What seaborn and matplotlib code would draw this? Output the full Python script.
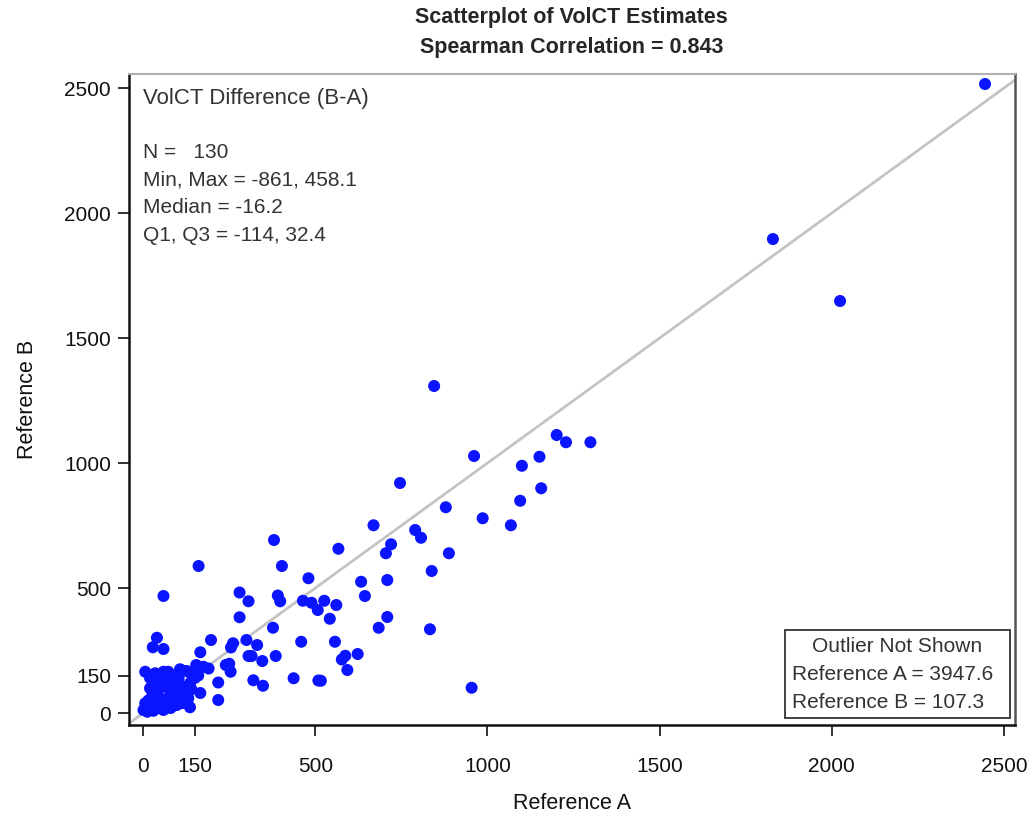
import matplotlib
matplotlib.use("Agg")
import matplotlib.pyplot as plt
import matplotlib.patches as patches
import pandas as pd
import seaborn as sns

# values (Reference A, Reference B)
ref_a = [2445, 1829, 2024, 845, 1201, 1228, 1299, 961, 1151, 1100,
         746, 1156, 1095, 879, 986, 1068, 669, 790, 807, 720,
         705, 888, 567, 380, 838, 403, 161, 480, 633, 709,
         644, 280, 306, 59, 391, 398, 464, 489, 526, 507,
         561, 542, 709, 684, 833, 280, 377, 459, 557, 623,
         587, 577, 593, 516, 954, 437, 40, 28, 59, 197,
         166, 255, 261, 300, 331, 306, 315, 346, 385, 240,
         250, 254, 320, 348, 509, 218, 166, 218, 136, 154,
         175, 190, 110, 136, 6, 35, 59, 73, 107, 126,
         44, 78, 103, 20, 59, 88, 117, 136, 25, 49,
         78, 107, 131, 6, 35, 69, 98, 1, 30, 59,
         10, 15, 40, 55, 90, 120, 150, 100, 65, 85,
         12, 45, 80, 30, 95, 160, 115, 20, 140]
ref_b = [2516, 1896, 1648, 1308, 1112, 1083, 1083, 1028, 1025, 989,
         920, 899, 849, 823, 779, 751, 751, 732, 701, 675,
         639, 639, 657, 692, 568, 588, 588, 539, 525, 532,
         468, 482, 447, 468, 470, 447, 449, 441, 449, 412,
         432, 377, 384, 341, 335, 383, 341, 285, 285, 236,
         229, 214, 172, 129, 101, 139, 301, 263, 256, 292,
         243, 262, 279, 292, 272, 228, 228, 208, 228, 192,
         197, 165, 131, 109, 130, 122, 80, 52, 23, 192,
         185, 178, 172, 161, 165, 159, 165, 165, 175, 168,
         125, 132, 139, 99, 105, 99, 105, 119, 65, 59,
         72, 65, 59, 39, 32, 39, 32, 12, 9, 12,
         20, 50, 80, 45, 60, 85, 140, 110, 150, 150,
         5, 20, 20, 120, 80, 150, 40, 140, 95]

ticks = [0, 150, 500, 1000, 1500, 2000, 2500]
stats_lines = ["N =   130", "Min, Max = -861, 458.1", "Median = -16.2", "Q1, Q3 = -114, 32.4"]
outlier_lines = ["Outlier Not Shown", "Reference A = 3947.6", "Reference B = 107.3"]

df = pd.DataFrame({"Reference A": ref_a, "Reference B": ref_b})

sns.set_style("ticks")
plt.rcParams["font.family"] = ["Liberation Sans", "DejaVu Sans"]

fig = plt.figure(figsize=(10.34, 8.17), dpi=100)
ax = fig.add_axes([0.1248, 0.1126, 0.8568, 0.7968])

ax.axline((0, 0), slope=1, color="#c4c4c4", lw=2, zorder=1)
sns.scatterplot(data=df, x="Reference A", y="Reference B", color="#0a14ff",
                s=75, edgecolor="none", ax=ax, zorder=2)

ax.set_xlim(-41, 2532)
ax.set_ylim(-48, 2556)
ax.set_xticks(ticks)
ax.set_yticks(ticks)
ax.tick_params(axis="both", direction="out", length=8, width=1.3, colors="#222222",
               labelsize=15, labelcolor="#111111", bottom=True, left=True)
ax.tick_params(axis="x", pad=15)
ax.tick_params(axis="y", pad=5)
ax.set_xlabel("Reference A", fontsize=15.5, labelpad=12, color="#111111")
ax.set_ylabel("Reference B", fontsize=15.5, labelpad=19, color="#111111")

for side in ["left", "bottom"]:
    ax.spines[side].set_color("#111111")
    ax.spines[side].set_linewidth(1.8)
ax.spines["top"].set_color("#b0b0b0")
ax.spines["top"].set_linewidth(1.5)
ax.spines["right"].set_color("#555555")
ax.spines["right"].set_linewidth(1.8)

# summary inset
ax.text(0.016, 0.963, "VolCT Difference (B-A)", transform=ax.transAxes,
        fontsize=16, color="#333333", va="center", ha="left")
for i, line in enumerate(stats_lines):
    ax.text(0.016, 0.880 - i * 0.0425, line, transform=ax.transAxes,
            fontsize=15, color="#333333", va="center", ha="left")

# outlier box
ax.add_patch(patches.Rectangle((0.740, 0.011), 0.254, 0.135, transform=ax.transAxes,
                               fill=False, edgecolor="#333333", lw=1.3, zorder=3))
ax.text(0.867, 0.120, outlier_lines[0], transform=ax.transAxes,
        fontsize=15, color="#333333", va="center", ha="center")
ax.text(0.748, 0.077, outlier_lines[1], transform=ax.transAxes,
        fontsize=15, color="#333333", va="center", ha="left")
ax.text(0.748, 0.034, outlier_lines[2], transform=ax.transAxes,
        fontsize=15, color="#333333", va="center", ha="left")

fig.text(0.553, 0.979, "Scatterplot of VolCT Estimates", fontsize=15.5,
         fontweight="bold", ha="center", va="center")
fig.text(0.553, 0.942, "Spearman Correlation = 0.843", fontsize=15.5,
         fontweight="bold", ha="center", va="center")

fig.savefig("out.png", dpi=100)
